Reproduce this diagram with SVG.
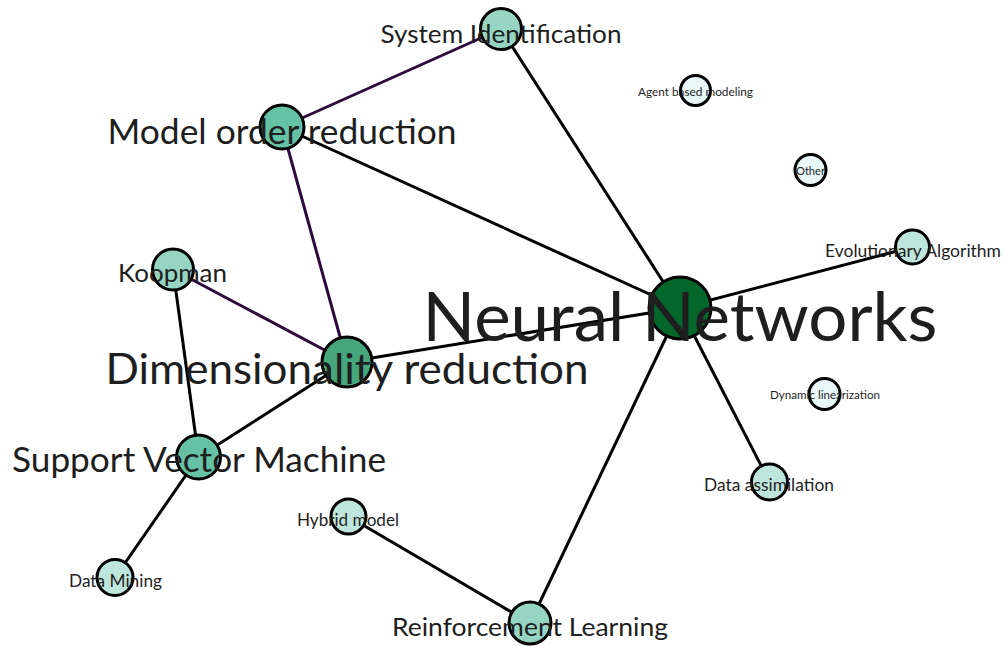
<svg xmlns="http://www.w3.org/2000/svg" width="1005" height="646" viewBox="0 0 1005 646">
<style>
.e{stroke:#000;stroke-width:3;fill:none}
.p{stroke:#2e0a3c}
circle{stroke:#000;stroke-width:3}
.d0{fill:#eaf7f9}.d1{fill:#bfe6dc}.d2{fill:#95d5c2}.d3{fill:#66c2a5}.d4{fill:#45a77b}.d6{fill:#03672b}
text{font-family:Lato,"Open Sans","Liberation Sans",sans-serif;fill:#1e1e1e;text-anchor:middle}
</style>
<rect width="1005" height="646" fill="#fff"/>
<g id="edges">
<line class="e p" x1="501" y1="29" x2="282" y2="127"/>
<line class="e" x1="501" y1="29" x2="680" y2="308"/>
<line class="e" x1="282" y1="127" x2="680" y2="308"/>
<line class="e p" x1="282" y1="127" x2="347" y2="362"/>
<line class="e p" x1="173" y1="269.5" x2="347" y2="362"/>
<line class="e" x1="173" y1="269.5" x2="198.5" y2="457"/>
<line class="e" x1="347" y1="362" x2="680" y2="308"/>
<line class="e" x1="347" y1="362" x2="198.5" y2="457"/>
<line class="e" x1="198.5" y1="457" x2="115" y2="577.5"/>
<line class="e" x1="680" y1="308" x2="912.5" y2="247"/>
<line class="e" x1="680" y1="308" x2="769.5" y2="482"/>
<line class="e" x1="680" y1="308" x2="530" y2="623"/>
<line class="e" x1="348.5" y1="516.5" x2="530" y2="623"/>
</g>
<g id="sysid"><circle class="d2" cx="501" cy="29" r="20.5"/><text x="501" y="43" font-size="24.8" textLength="241" lengthAdjust="spacingAndGlyphs">System Identification</text></g>
<g id="mor"><circle class="d3" cx="282" cy="127" r="22"/><text x="282" y="144" font-size="33.8" textLength="349" lengthAdjust="spacingAndGlyphs">Model order reduction</text></g>
<g id="abm"><circle class="d0" cx="695.5" cy="90.5" r="15"/><text x="695.5" y="96" font-size="11.4" textLength="115" lengthAdjust="spacingAndGlyphs">Agent based modeling</text></g>
<g id="other"><circle class="d0" cx="810.5" cy="170" r="15.5"/><text x="810.5" y="175" font-size="11" textLength="29" lengthAdjust="spacingAndGlyphs">Other</text></g>
<g id="evo"><circle class="d1" cx="912.5" cy="247" r="17"/><text x="913" y="257" font-size="16.9" textLength="176" lengthAdjust="spacingAndGlyphs">Evolutionary Algorithm</text></g>
<g id="koopman"><circle class="d2" cx="173" cy="269.5" r="20.5"/><text x="172.5" y="282" font-size="24.8" textLength="109" lengthAdjust="spacingAndGlyphs">Koopman</text></g>
<g id="nn"><circle class="d6" cx="680" cy="308" r="31"/><text x="680" y="341" font-size="67.5" textLength="515" lengthAdjust="spacingAndGlyphs">Neural Networks</text></g>
<g id="dim"><circle class="d4" cx="347" cy="362" r="25"/><text x="347" y="384" font-size="42.3" textLength="483" lengthAdjust="spacingAndGlyphs">Dimensionality reduction</text></g>
<g id="dyn"><circle class="d0" cx="824.5" cy="394" r="15.5"/><text x="825" y="399" font-size="11.3" textLength="110" lengthAdjust="spacingAndGlyphs">Dynamic linearization</text></g>
<g id="svm"><circle class="d3" cx="198.5" cy="457" r="22"/><text x="199" y="472" font-size="33.8" textLength="374" lengthAdjust="spacingAndGlyphs">Support Vector Machine</text></g>
<g id="da"><circle class="d1" cx="769.5" cy="482" r="18"/><text x="769" y="491" font-size="16.8" textLength="130" lengthAdjust="spacingAndGlyphs">Data assimilation</text></g>
<g id="hybrid"><circle class="d1" cx="348.5" cy="516.5" r="17.5"/><text x="348" y="526" font-size="16.7" textLength="102" lengthAdjust="spacingAndGlyphs">Hybrid model</text></g>
<g id="dm"><circle class="d1" cx="115" cy="577.5" r="18"/><text x="115.5" y="587" font-size="16.8" textLength="93" lengthAdjust="spacingAndGlyphs">Data Mining</text></g>
<g id="rl"><circle class="d2" cx="530" cy="623" r="21"/><text x="530" y="636" font-size="25" textLength="276" lengthAdjust="spacingAndGlyphs">Reinforcement Learning</text></g>
</svg>
